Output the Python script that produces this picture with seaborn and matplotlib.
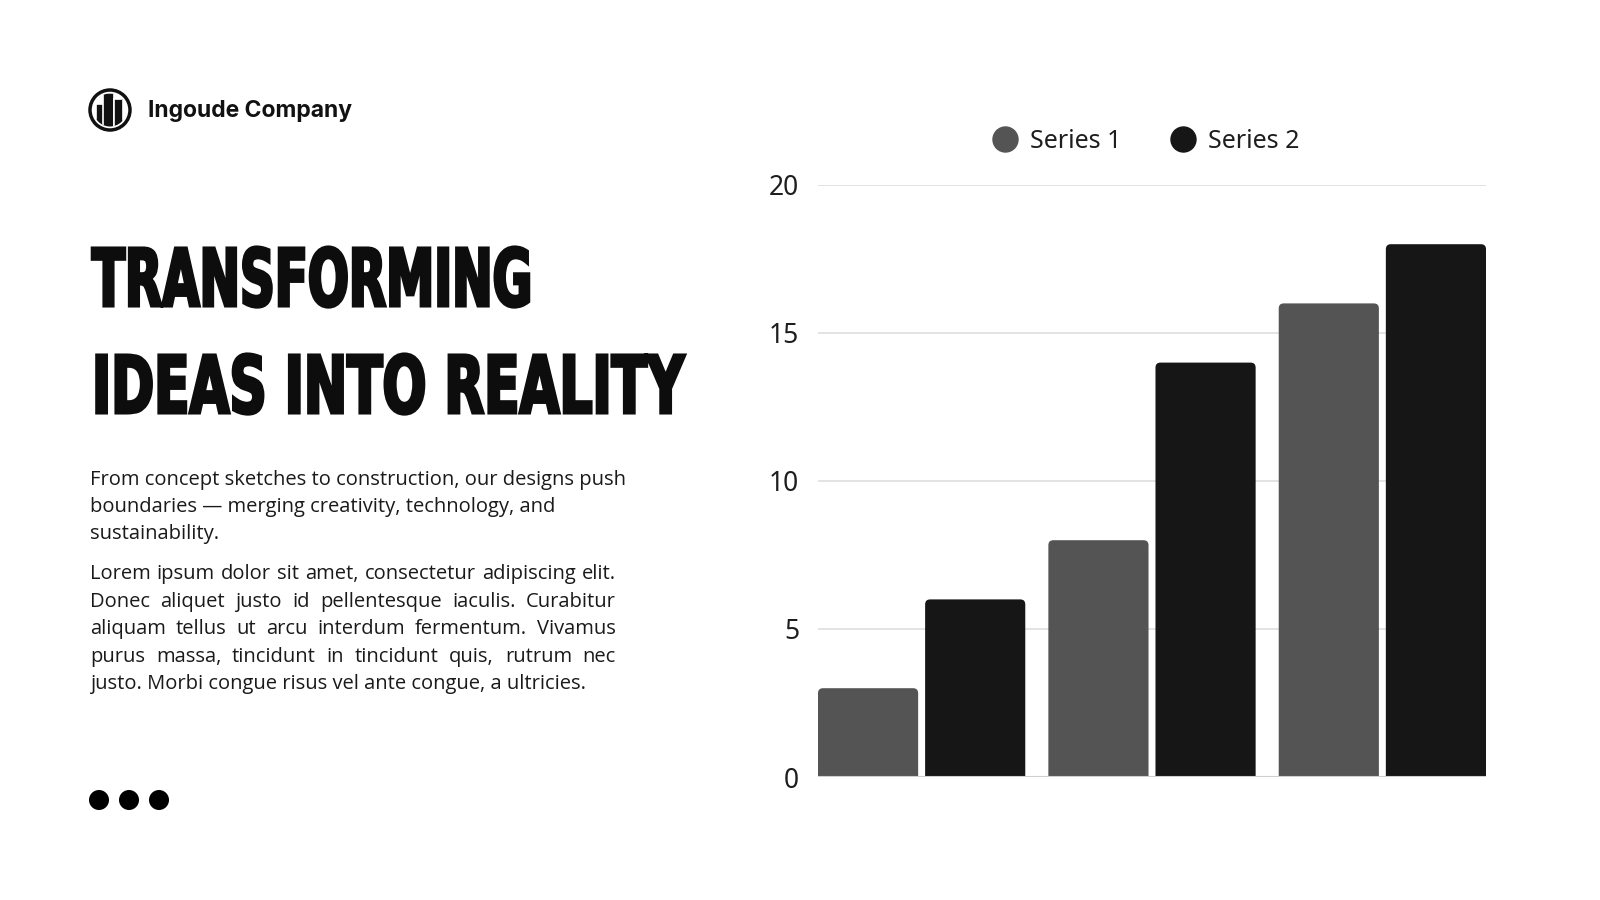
import matplotlib
matplotlib.use("Agg")
import matplotlib.pyplot as plt
from matplotlib.patches import Circle, Rectangle, FancyBboxPatch
from matplotlib.patheffects import AbstractPathEffect
from matplotlib.transforms import Affine2D
from matplotlib.lines import Line2D
import seaborn as sns
import pandas as pd

# chart data
categories = ["Item 1", "Item 2", "Item 3"]
series_names = ["Series 1", "Series 2"]
series1 = [3, 8, 16]
series2 = [6, 14, 18]
y_ticks = [0, 5, 10, 15, 20]

# slide texts
company = "Ingoude Company"
title_lines = ["TRANSFORMING", "IDEAS INTO REALITY"]
intro_lines = [
    "From concept sketches to construction, our designs push",
    "boundaries \u2014 merging creativity, technology, and",
    "sustainability.",
]
body_lines = [
    "Lorem ipsum dolor sit amet, consectetur adipiscing elit.",
    "Donec aliquet justo id pellentesque iaculis. Curabitur",
    "aliquam tellus ut arcu interdum fermentum. Vivamus",
    "purus massa, tincidunt in tincidunt quis, rutrum nec",
    "justo. Morbi congue risus vel ante congue, a ultricies.",
]

palette = {"Series 1": "#545454", "Series 2": "#161616"}

df = pd.DataFrame({
    "category": categories * 2,
    "series": [series_names[0]] * len(series1) + [series_names[1]] * len(series2),
    "value": series1 + series2,
})


class TallText(AbstractPathEffect):
    """Stretch glyphs vertically about the baseline and thicken them a bit."""

    def __init__(self, sy=1.0, stroke=0.0):
        super().__init__()
        self.sy = sy
        self.stroke = stroke

    def draw_path(self, renderer, gc, tpath, affine, rgbFace=None):
        x0, y0 = affine.transform((0, 0))
        aff = affine + Affine2D().translate(-x0, -y0).scale(1, self.sy).translate(x0, y0)
        gc0 = renderer.new_gc()
        gc0.copy_properties(gc)
        if self.stroke and rgbFace is not None:
            gc0.set_linewidth(self.stroke)
            gc0.set_foreground(rgbFace)
            gc0.set_joinstyle("miter")
        renderer.draw_path(gc0, tpath, aff, rgbFace)
        gc0.restore()


sns.set_theme(style="white")
plt.rcParams["font.family"] = ["Noto Sans", "DejaVu Sans"]

W, H = 1600, 900
fig = plt.figure(figsize=(16, 9), dpi=100)
fig.patch.set_facecolor("white")

# background axes in pixel units for the text block and decorations
deco = fig.add_axes([0, 0, 1, 1], zorder=0)
deco.set_xlim(0, W)
deco.set_ylim(H, 0)
deco.axis("off")

# --- bar chart ---
ax = fig.add_axes([818 / W, 1 - 777 / H, (1486 - 818) / W, (777 - 185) / H], zorder=1)
ax.patch.set_alpha(0)
sns.barplot(data=df, x="category", y="value", hue="series", palette=palette,
            width=0.93, gap=0.065, saturation=1, legend=False, ax=ax)

bars = list(ax.patches)
left = min(p.get_x() for p in bars)
right = max(p.get_x() + p.get_width() for p in bars)
ax.set_xlim(left, right)
ax.set_ylim(0, 20)

# rounded tops
px_x = (right - left) / (1486 - 818)
px_y = 20 / (777 - 185)
rx, ry = 5 * px_x, 5 * px_y
for p in bars:
    x, y, w, h = p.get_x(), p.get_y(), p.get_width(), p.get_height()
    fc = p.get_facecolor()
    p.remove()
    ax.add_patch(FancyBboxPatch((x, y - ry), w, h + ry,
                                boxstyle=f"round,pad=0,rounding_size={rx}",
                                mutation_aspect=ry / rx, fc=fc, ec="none", zorder=2))

ax.set_yticks(y_ticks)
ax.yaxis.grid(True, color="#e0e0e0", lw=1.3)
ax.set_axisbelow(True)
ax.axhline(0, color="#cfcfcf", lw=1.5, zorder=3)
ax.set_xticks([])
ax.set_xlabel("")
ax.set_ylabel("")
ax.tick_params(axis="y", length=0, pad=13.5, labelsize=19, labelcolor="#1e1e1e")
sns.despine(ax=ax, left=True, bottom=True)

handles = [Line2D([], [], marker="o", ls="", markersize=18, markerfacecolor=palette[s],
                  markeredgecolor=palette[s]) for s in series_names]
fig.legend(handles, series_names, loc="center left", bbox_to_anchor=(992.5 / W, 1 - 141 / H),
           ncol=2, frameon=False, fontsize=18, handlelength=1.0, handletextpad=0.5,
           columnspacing=1.95, borderpad=0, borderaxespad=0, labelcolor="#1e1e1e")

# --- left text block ---
# logo: ring with three towers
deco.add_patch(Circle((110, 110), 20, fc="white", ec="#111111", lw=2.5))
clip = Circle((110, 110), 16.5, transform=deco.transData)
for bx, by, bw, bh in [(96, 104, 8, 30), (103, 93, 11, 40), (114, 99, 9, 33)]:
    r = Rectangle((bx, by), bw, bh, fc="#111111", ec="white", lw=1.2)
    deco.add_patch(r)
    r.set_clip_path(clip)
deco.text(148, 117, company, fontsize=16.5, fontweight="bold", family=["Inter", "DejaVu Sans"],
          color="#111111", va="baseline", ha="left")

fig.canvas.draw()
renderer = fig.canvas.get_renderer()


def fit_size(text_obj, target_px):
    # scale font size so the text spans target_px pixels
    w = text_obj.get_window_extent(renderer).width
    text_obj.set_fontsize(text_obj.get_fontsize() * target_px / w)


# title, condensed heavy sans fitted to the reference line widths, stretched to the cap height
title_kw = dict(fontsize=40, fontweight="heavy", family="DejaVu Sans", fontstretch="condensed",
                color="#0d0d0d", va="baseline", ha="left")
for txt, yb, target in zip(title_lines, [306, 413], [440, 592]):
    t = deco.text(92, yb, txt, **title_kw)
    fit_size(t, target)
    cap_px = t.get_fontsize() / 72 * 100 * 0.729
    t.set_path_effects([TallText(sy=58 / cap_px, stroke=2.2)])

body_font = dict(fontsize=14, family=["Open Sans", "DejaVu Sans"], color="#1a1a1a", va="baseline")
probe = deco.text(90, 485, intro_lines[0], **body_font)
fit_size(probe, 538)
body_font["fontsize"] = probe.get_fontsize()
probe.remove()

for i, line in enumerate(intro_lines):
    deco.text(90, 485 + i * 27.2, line, **body_font)

# justified paragraph
x0, x1 = 90, 616
for i, line in enumerate(body_lines):
    yb = 579 + i * 27.6
    if i == len(body_lines) - 1:
        deco.text(x0, yb, line, **body_font)
        continue
    words = line.split(" ")
    texts = [deco.text(0, yb, wd, **body_font) for wd in words]
    widths = [t.get_window_extent(renderer).width for t in texts]
    space = (x1 - x0 - sum(widths)) / (len(words) - 1)
    xx = x0
    for t, wd in zip(texts, widths):
        t.set_x(xx)
        xx += wd + space

# dots
for cx in [99, 129, 159]:
    deco.add_patch(Circle((cx, 800), 10, fc="black", ec="none"))

fig.savefig("out.png", dpi=100, facecolor="white")
